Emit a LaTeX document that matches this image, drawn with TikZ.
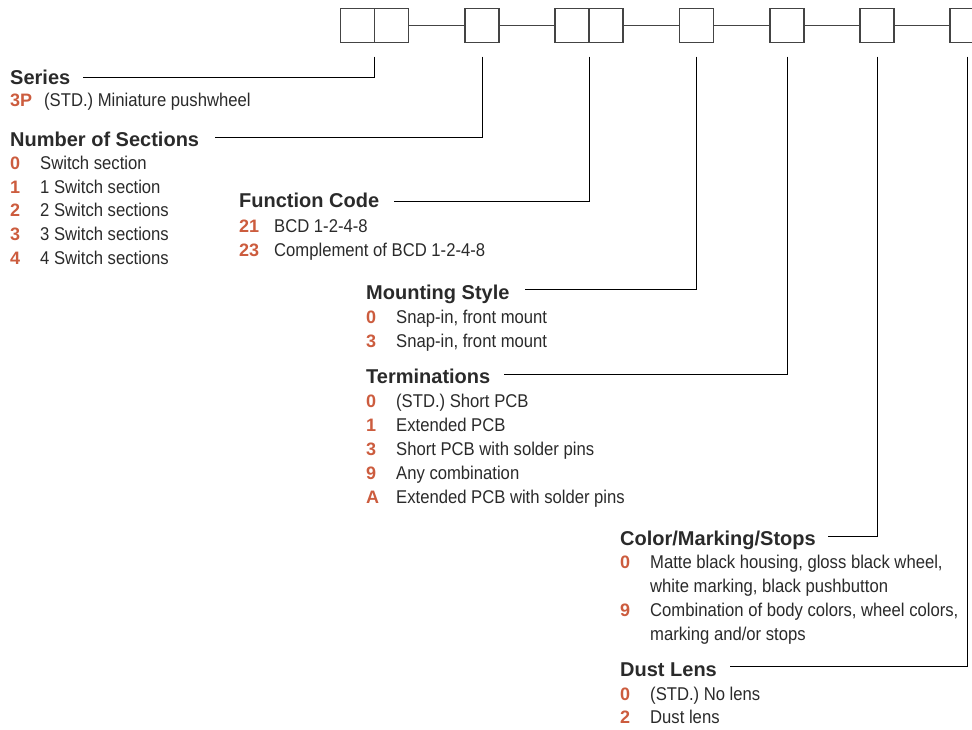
\documentclass[tikz,border=0pt]{standalone}
\usepackage{fontspec}
\setmainfont{Liberation Sans}
\newfontfamily\headfont{Liberation Sans}
\newfontfamily\bodyfont[FakeStretch=0.9]{Liberation Sans}
\definecolor{codered}{HTML}{CC5C3E}
\definecolor{ink}{HTML}{2A2A2A}
\definecolor{boxgray}{HTML}{444444}
\begin{document}
\begin{tikzpicture}[x=1pt,y=-1pt,
  slot/.style={draw=boxgray,line width=1.4pt,minimum width=34pt,minimum height=34pt,inner sep=0pt,outer sep=0pt},
  link/.style={draw=boxgray,line width=1.3pt},
  lead/.style={draw=black,line width=1pt},
  head/.style={anchor=base west,inner sep=0pt,font=\headfont\bfseries\fontsize{20}{22}\selectfont,text=ink},
  code/.style={anchor=base west,inner sep=0pt,font=\headfont\bfseries\fontsize{18}{20}\selectfont,text=codered},
  desc/.style={anchor=base west,inner sep=0pt,font=\bodyfont\fontsize{18.5}{20}\selectfont,text=ink}]
\useasboundingbox (0,0) rectangle (972,729);
% boxes
\node[slot] (b1a) at (357.7,25.7) {};
\node[slot] (b1b) at (391.7,25.7) {};
\node[slot] (b2) at (482,25.7) {};
\node[slot] (b3a) at (572,25.7) {};
\node[slot] (b3b) at (606,25.7) {};
\node[slot] (b4) at (696.5,25.7) {};
\node[slot] (b5) at (787,25.7) {};
\node[slot] (b6) at (877,25.7) {};
\node[slot] (b7) at (967,25.7) {};
\draw[link] (b1b.east) -- (b2.west);
\draw[link] (b2.east) -- (b3a.west);
\draw[link] (b3b.east) -- (b4.west);
\draw[link] (b4.east) -- (b5.west);
\draw[link] (b5.east) -- (b6.west);
\draw[link] (b6.east) -- (b7.west);
% Series
\node[head] (hser) at (10,84) {Series};
\node[code] (c3p) at (10,106) {3P};
\node[desc] (t3p) at (44,106) {(STD.) Miniature pushwheel};
% Number of Sections
\node[head] (hnos) at (10,146) {Number of Sections};
\node[code] (cn0) at (10,169) {0};
\node[desc] (tn0) at (40,169) {Switch section};
\node[code] (cn1) at (10,193) {1};
\node[desc] (tn1) at (40,193) {1 Switch section};
\node[code] (cn2) at (10,216.7) {2};
\node[desc] (tn2) at (40,216.7) {2 Switch sections};
\node[code] (cn3) at (10,240.3) {3};
\node[desc] (tn3) at (40,240.3) {3 Switch sections};
\node[code] (cn4) at (10,264) {4};
\node[desc] (tn4) at (40,264) {4 Switch sections};
% Function Code
\node[head] (hfc) at (239,207.5) {Function Code};
\node[code] (cf21) at (239,232.3) {21};
\node[desc] (tf21) at (274,232.3) {BCD 1-2-4-8};
\node[code] (cf23) at (239,256.7) {23};
\node[desc] (tf23) at (274,256.7) {Complement of BCD 1-2-4-8};
% Mounting Style
\node[head] (hms) at (366,299) {Mounting Style};
\node[code] (cm0) at (366,323) {0};
\node[desc] (tm0) at (396,323) {Snap-in, front mount};
\node[code] (cm3) at (366,347) {3};
\node[desc] (tm3) at (396,347) {Snap-in, front mount};
% Terminations
\node[head] (hterm) at (366,383.5) {Terminations};
\node[code] (ct0) at (366,407) {0};
\node[desc] (tt0) at (396,407) {(STD.) Short PCB};
\node[code] (ct1) at (366,431) {1};
\node[desc] (tt1) at (396,431) {Extended PCB};
\node[code] (ct3) at (366,455) {3};
\node[desc] (tt3) at (396,455) {Short PCB with solder pins};
\node[code] (ct9) at (366,479) {9};
\node[desc] (tt9) at (396,479) {Any combination};
\node[code] (ctA) at (366,503) {A};
\node[desc] (ttA) at (396,503) {Extended PCB with solder pins};
% Color/Marking/Stops
\node[head] (hcol) at (620,545) {Color/Marking/Stops};
\node[code] (cc0) at (620,568.5) {0};
\node[desc] (tc0) at (650,568.5) {Matte black housing, gloss black wheel,};
\node[desc] (tc0b) at (650,592.5) {white marking, black pushbutton};
\node[code] (cc9) at (620,616.5) {9};
\node[desc] (tc9) at (650,616.5) {Combination of body colors, wheel colors,};
\node[desc] (tc9b) at (650,640.3) {marking and/or stops};
% Dust Lens
\node[head] (hdust) at (620,676.7) {Dust Lens};
\node[code] (cd0) at (620,700) {0};
\node[desc] (td0) at (650,700) {(STD.) No lens};
\node[code] (cd2) at (620,723.5) {2};
\node[desc] (td2) at (650,723.5) {Dust lens};
% leaders
\draw[lead] ([yshift=-14pt]b1a.south east) |- ([xshift=13pt,yshift=7pt]hser.base east);
\draw[lead] ([yshift=-14pt]b2.south) |- ([xshift=16pt,yshift=9pt]hnos.base east);
\draw[lead] ([yshift=-14pt]b3a.south east) |- ([xshift=15pt,yshift=6pt]hfc.base east);
\draw[lead] ([yshift=-14pt]b4.south) |- ([xshift=15pt,yshift=9.5pt]hms.base east);
\draw[lead] ([yshift=-14pt]b5.south) |- ([xshift=14pt,yshift=9pt]hterm.base east);
\draw[lead] ([yshift=-14pt]b6.south) |- ([xshift=12pt,yshift=9pt]hcol.base east);
\draw[lead] ([yshift=-14pt]b7.south) |- ([xshift=13pt,yshift=10pt]hdust.base east);
\end{tikzpicture}
\end{document}
